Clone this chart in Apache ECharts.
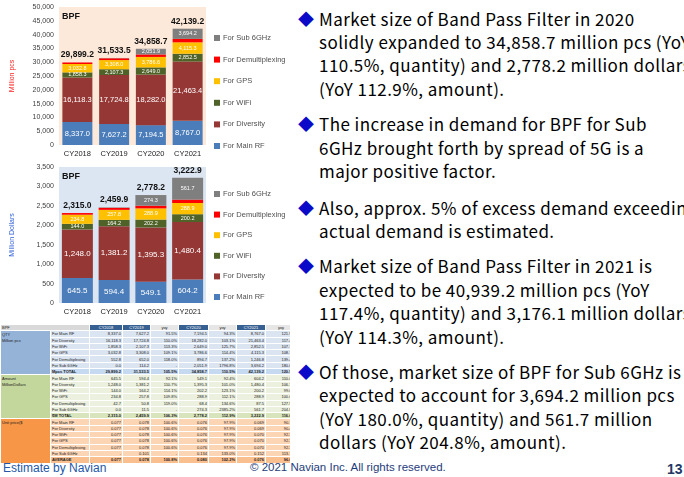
<!DOCTYPE html>
<html>
<head>
<meta charset="utf-8">
<script src="https://cdn.jsdelivr.net/npm/echarts@6/dist/echarts.min.js"></script>
<style>
  html, body { margin: 0; padding: 0; background: #fff; }
  body { width: 684px; height: 477px; position: relative; overflow: hidden; font-family: "Liberation Sans", Arial, sans-serif; }
  #chartPcs { position: absolute; left: 0; top: 0; width: 290px; height: 160px; }
  #chartUsd { position: absolute; left: 0; top: 160px; width: 290px; height: 160px; }
  #tbl { position: absolute; left: 0; top: 324px; width: 290px; height: 140px; overflow: hidden; }
  #tbl table { border-collapse: collapse; table-layout: fixed; width: 296px; font-size: 4px; line-height: 5px; }
  #tbl td { height: 5.3px; padding: 0 1px; border: 1px solid #fff; white-space: nowrap; overflow: hidden; color: #222; }
  #tbl td.n { text-align: right; }
  #tbl td.h { text-align: center; }
  .bul { position: absolute; left: 298px; width: 420px; font-family: "Noto Sans CJK JP", sans-serif; font-size: 17px; line-height: 23.4px; letter-spacing: 0.45px; color: #000; white-space: nowrap; }
  .bul .dia { position: absolute; left: 0; top: 0; color: #0a0ac8; font-size: 16px; letter-spacing: 0; }
  .bul .txt { margin-left: 21px; }
  .foot { position: absolute; top: 461px; font-family: "Liberation Sans", Arial, sans-serif; white-space: nowrap; }
</style>
</head>
<body>
<div id="chartPcs"></div>
<div id="chartUsd"></div>
<div id="tbl"></div>

<div class="bul" style="top:6.6px"><span class="dia">◆</span><div class="txt">Market size of Band Pass Filter in 2020<br>solidly expanded to 34,858.7 million pcs (YoY<br>110.5%, quantity) and 2,778.2 million dollars<br>(YoY 112.9%, amount).</div></div>
<div class="bul" style="top:112.3px"><span class="dia">◆</span><div class="txt">The increase in demand for BPF for Sub<br>6GHz brought forth by spread of 5G is a<br>major positive factor.</div></div>
<div class="bul" style="top:195.6px"><span class="dia">◆</span><div class="txt">Also, approx. 5% of excess demand exceeding<br>actual demand is estimated.</div></div>
<div class="bul" style="top:254.3px"><span class="dia">◆</span><div class="txt">Market size of Band Pass Filter in 2021 is<br>expected to be 40,939.2 million pcs (YoY<br>117.4%, quantity) and 3,176.1 million dollars<br>(YoY 114.3%, amount).</div></div>
<div class="bul" style="top:360px"><span class="dia">◆</span><div class="txt">Of those, market size of BPF for Sub 6GHz is<br>expected to account for 3,694.2 million pcs<br>(YoY 180.0%, quantity) and 561.7 million<br>dollars (YoY 204.8%, amount).</div></div>

<div class="foot" style="left:3px;font-size:12px;color:#2457a8;">Estimate by Navian</div>
<div class="foot" style="left:250px;font-size:11.5px;color:#1f3c7a;">© 2021 Navian Inc. All rights reserved.</div>
<div class="foot" style="left:667px;font-size:14px;font-weight:bold;color:#1f3864;">13</div>

<script>
// categories
var years = ["CY2018", "CY2019", "CY2020", "CY2021"];
var segNames = ["For Main RF", "For Diversity", "For WiFi", "For GPS", "For Demultiplexing", "For Sub 6GHz"];
var segColors = ["#4a7dba", "#953735", "#4f6228", "#ffc000", "#ff0000", "#7f7f7f"];

// quantity, million pcs
var pcsMainRF = [8337.0, 7627.2, 7194.5, 8767.0];
var pcsDiversity = [16118.3, 17724.8, 18282.0, 21463.4];
var pcsWiFi = [1858.3, 2107.3, 2649.0, 2852.5];
var pcsGPS = [3032.8, 3308.0, 3786.6, 4115.3];
var pcsDemux = [552.8, 652.0, 894.7, 1246.8];
var pcsSub6 = [0, 114.2, 2051.9, 3694.2];
var pcsTotals = [29899.2, 31533.5, 34858.7, 42139.2];

// amount, million dollars
var usdMainRF = [645.5, 594.4, 549.1, 604.2];
var usdDiversity = [1248.0, 1381.2, 1395.3, 1480.4];
var usdWiFi = [144.0, 164.2, 202.2, 200.2];
var usdGPS = [234.8, 257.8, 288.9, 288.9];
var usdDemux = [42.7, 50.8, 68.4, 87.5];
var usdSub6 = [0, 11.5, 274.3, 561.7];
var usdTotals = [2315.0, 2459.9, 2778.2, 3222.9];

// table (as printed)
var tblHead = ["CY2018", "CY2019", "yoy", "CY2020", "yoy", "CY2021", "yoy"];
var tblSub = ["For Main RF", "For Diversity", "For WiFi", "For GPS", "For Demultiplexing", "For Sub 6GHz"];
var qtyRows = [
  ["8,337.0", "7,627.2", "91.5%", "7,194.5", "94.3%", "8,767.0", "121.9%"],
  ["16,118.3", "17,724.8", "110.0%", "18,282.0", "103.1%", "21,463.4", "117.4%"],
  ["1,858.3", "2,107.3", "113.3%", "2,649.0", "125.7%", "2,852.5", "107.7%"],
  ["3,032.8", "3,308.0", "109.1%", "3,786.6", "114.4%", "4,115.3", "108.7%"],
  ["552.8", "652.0", "118.0%", "894.7", "137.2%", "1,246.8", "139.4%"],
  ["0.0", "114.2", "-", "2,051.9", "1796.8%", "3,694.2", "180.0%"],
  ["29,899.2", "31,533.5", "105.5%", "34,858.7", "110.5%", "42,139.2", "120.9%"]
];
var amtRows = [
  ["645.5", "594.4", "92.1%", "549.1", "92.4%", "604.2", "110.0%"],
  ["1,248.0", "1,381.2", "110.7%", "1,395.3", "101.0%", "1,480.4", "106.1%"],
  ["144.0", "164.2", "114.1%", "202.2", "123.1%", "200.2", "99.0%"],
  ["234.8", "257.8", "109.8%", "288.9", "112.1%", "288.9", "100.0%"],
  ["42.7", "50.8", "119.0%", "68.4", "134.6%", "87.5", "127.9%"],
  ["0.0", "11.5", "-", "274.3", "2385.2%", "561.7", "204.8%"],
  ["2,315.0", "2,459.9", "106.3%", "2,778.2", "112.9%", "3,222.9", "116.0%"]
];
var priceRows = [
  ["0.077", "0.078", "100.6%", "0.076", "97.9%", "0.069", "90.7%"],
  ["0.077", "0.078", "100.6%", "0.076", "97.9%", "0.069", "90.4%"],
  ["0.077", "0.078", "100.6%", "0.076", "97.9%", "0.070", "92.3%"],
  ["0.077", "0.078", "100.6%", "0.076", "97.9%", "0.070", "92.3%"],
  ["0.077", "0.078", "100.6%", "0.076", "97.9%", "0.070", "92.3%"],
  ["-", "0.101", "-", "0.134", "133.0%", "0.152", "113.7%"],
  ["0.077", "0.078", "100.8%", "0.080", "102.2%", "0.076", "96.0%"]
];

function fmt1(v) {
  return v.toLocaleString("en-US", { minimumFractionDigits: 1, maximumFractionDigits: 1 });
}

// one stacked chart; lists = segment values in segNames order
function makeOption(lists, totals, axisMax, axisStep, unitName, unitColor, barW, bigFont, legendTop, legendGap, bg) {
  var bigLabel = [true, true, false, false, false, false];
  var series = lists.map(function (d, i) {
    return {
      name: segNames[i],
      type: "bar",
      stack: "all",
      barWidth: barW,
      data: d,
      itemStyle: { color: segColors[i] },
      label: {
        show: i !== 4,
        position: "inside",
        color: "#fff",
        fontSize: bigLabel[i] ? bigFont : 5.5,
        fontFamily: "Liberation Sans",
        formatter: function (p) {
          return p.value / axisMax > 0.03 ? fmt1(p.value) : "";
        }
      }
    };
  });
  // zero-height cap that carries the total label
  series.push({
    name: "total",
    type: "bar",
    stack: "all",
    barWidth: barW,
    data: totals.map(function () { return 0; }),
    itemStyle: { color: "transparent" },
    label: {
      show: true,
      position: "top",
      distance: 3,
      color: "#111",
      fontWeight: "bold",
      fontSize: 8.5,
      fontFamily: "Liberation Sans",
      formatter: function (p) { return fmt1(totals[p.dataIndex]); }
    }
  });
  return {
    animation: false,
    grid: { left: 59, top: 7, width: 147, height: axisMax === 50000 ? 138 : 136, show: true, backgroundColor: bg, borderWidth: 0 },
    legend: {
      data: segNames.slice().reverse(),
      orient: "vertical",
      left: 209,
      top: legendTop,
      itemWidth: 6,
      itemHeight: 6,
      itemGap: legendGap,
      icon: "rect",
      textStyle: { fontSize: 7.5, color: "#505050", fontFamily: "Liberation Sans", lineHeight: 10, padding: [0, 0, 0, -2] }
    },
    graphic: [{
      type: "text", left: 62, top: 12,
      style: { text: "BPF", fontSize: 9, fontWeight: "bold", fill: "#111", fontFamily: "Liberation Sans" }
    }],
    xAxis: {
      type: "category",
      data: years,
      axisLine: { show: false },
      axisTick: { show: false },
      axisLabel: { fontSize: 7.5, color: "#222", margin: 5, fontFamily: "Liberation Sans" }
    },
    yAxis: {
      type: "value",
      min: 0,
      max: axisMax,
      interval: axisStep,
      name: unitName,
      nameLocation: "middle",
      nameRotate: 90,
      nameGap: 43,
      nameTextStyle: { color: unitColor, fontSize: 7, fontFamily: "Liberation Sans" },
      splitLine: { show: false },
      axisLine: { show: false },
      axisTick: { show: false },
      axisLabel: {
        fontSize: 7, color: "#404040", margin: 5, fontFamily: "Liberation Sans",
        formatter: function (v) { return v.toLocaleString("en-US"); }
      }
    },
    series: series
  };
}

var chartPcs = echarts.init(document.getElementById("chartPcs"));
chartPcs.setOption(makeOption(
  [pcsMainRF, pcsDiversity, pcsWiFi, pcsGPS, pcsDemux, pcsSub6], pcsTotals,
  50000, 5000, "Million pcs", "#ff2020", 30, 7.5, 28, 11.6, "#fde9d9"));

var chartUsd = echarts.init(document.getElementById("chartUsd"));
chartUsd.setOption(makeOption(
  [usdMainRF, usdDiversity, usdWiFi, usdGPS, usdDemux, usdSub6], usdTotals,
  3500, 500, "Million Dollars", "#2f5fd8", 31, 8, 24, 10.6, "#dce6f2"));

// data table under the charts
function buildTable() {
  var colW = [50, 39, 33, 28, 28, 30, 28, 29, 31];
  var h = "<table><colgroup>";
  colW.forEach(function (w) { h += '<col style="width:' + w + 'px">'; });
  h += "</colgroup>";
  h += '<tr><td colspan="2" style="background:#d9d9d9">BPF</td>';
  tblHead.forEach(function (t) {
    var dark = t !== "yoy";
    h += '<td class="h" style="background:' + (dark ? "#366092;color:#fff" : "#e6e6e6") + '">' + t + "</td>";
  });
  h += "</tr>";
  var sections = [
    { rows: qtyRows, side: "QTY<br>Million pcs", sideBg: "#95b3d7", bg: "#dbe5f1", totBg: "#c5d9f1", tot: "Mpcs TOTAL" },
    { rows: amtRows, side: "Amount<br>MillionDollars", sideBg: "#c3d69b", bg: "#ebf1de", totBg: "#d7e4bc", tot: "$M TOTAL" },
    { rows: priceRows, side: "Unit price($", sideBg: "#f79646", bg: "#fcd5b4", totBg: "#fabf8f", tot: "AVERAGE" }
  ];
  sections.forEach(function (s) {
    s.rows.forEach(function (r, i) {
      var isTot = i === s.rows.length - 1;
      var bg = isTot ? s.totBg : s.bg;
      h += "<tr>";
      if (i === 0) {
        h += '<td rowspan="7" style="background:' + s.sideBg + ';vertical-align:top;line-height:6px;padding-top:1px">' + s.side + "</td>";
      }
      h += '<td style="background:' + bg + (isTot ? ";font-weight:bold" : "") + '">' + (isTot ? s.tot : tblSub[i]) + "</td>";
      r.forEach(function (v) {
        h += '<td class="n" style="background:' + bg + (isTot ? ";font-weight:bold" : "") + '">' + v + "</td>";
      });
      h += "</tr>";
    });
  });
  h += "</table>";
  document.getElementById("tbl").innerHTML = h;
}
buildTable();
</script>
</body>
</html>
